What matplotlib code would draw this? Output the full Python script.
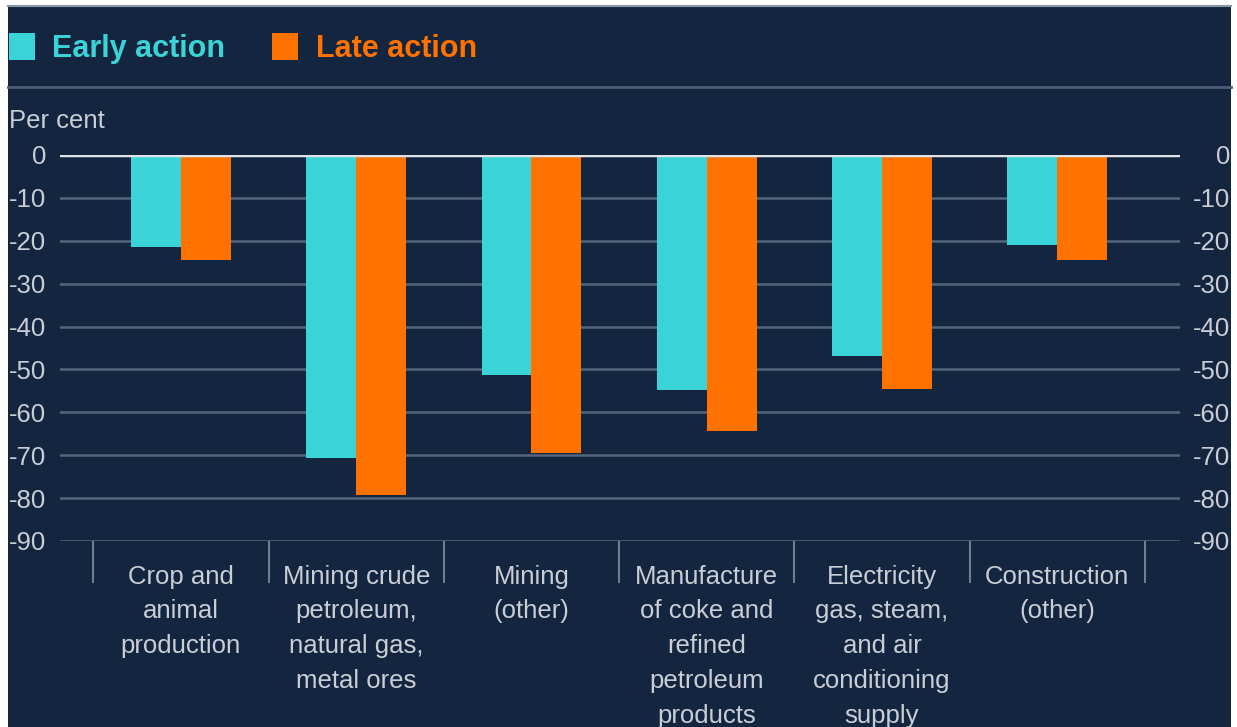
import matplotlib
matplotlib.use("Agg")
import matplotlib.pyplot as plt
from matplotlib.patches import Rectangle
from matplotlib.lines import Line2D
import numpy as np

plt.rcParams['font.family'] = ['Liberation Sans', 'DejaVu Sans']

categories = [
    "Crop and\nanimal\nproduction",
    "Mining crude\npetroleum,\nnatural gas,\nmetal ores",
    "Mining\n(other)",
    "Manufacture\nof coke and\nrefined\npetroleum\nproducts",
    "Electricity\ngas, steam,\nand air\nconditioning\nsupply",
    "Construction\n(other)",
]
early_action = [-21.5, -70.6, -51.3, -54.8, -46.9, -21.0]
late_action = [-24.5, -79.3, -69.5, -64.3, -54.5, -24.5]
yticks = [0, -10, -20, -30, -40, -50, -60, -70, -80, -90]
series_names = ["Early action", "Late action"]

NAVY = "#14263f"
CYAN = "#3ad4d8"
ORANGE = "#ff7200"
TEXT = "#c9ced6"
GRID = "#55657c"

W, H = 1237, 727
fig = plt.figure(figsize=(W / 100, H / 100), dpi=100)
fig.patch.set_facecolor("white")

# navy panel
fig.patches.append(Rectangle((8 / W, 0), (1231 - 8) / W, (H - 7) / H,
                             transform=fig.transFigure, facecolor=NAVY,
                             edgecolor="none", zorder=-10))
fig.lines.append(Line2D([8 / W, 1231 / W], [1 - 6 / H, 1 - 6 / H],
                        transform=fig.transFigure, color="#8a96a6", lw=1.5,
                        zorder=-5))
# separator line under legend
fig.lines.append(Line2D([8 / W, 1231 / W], [1 - 87 / H, 1 - 87 / H],
                        transform=fig.transFigure, color="#4c5d74", lw=2,
                        zorder=-5))

ax = fig.add_axes([60 / W, (H - 541) / H, (1180 - 60) / W, (541 - 155) / H])
ax.set_facecolor("none")

x = np.arange(len(categories))
bw = 0.285
ax.bar(x - bw / 2, early_action, width=bw, color=CYAN, zorder=3)
ax.bar(x + bw / 2, late_action, width=bw, color=ORANGE, zorder=3)

ax.set_xlim(-0.69, 5.70)
ax.set_ylim(-90, 0)

for v in yticks:
    if v == 0:
        ax.axhline(v, color="#dfe3e8", lw=2.5, zorder=4)
    else:
        ax.axhline(v, color=GRID, lw=1.8, zorder=1)

for s in ax.spines.values():
    s.set_visible(False)

ax.set_yticks(yticks)
ax.set_yticklabels([str(v) for v in yticks])
ax.tick_params(axis="y", length=0, pad=10, labelsize=18.5, labelcolor=TEXT)

ax.set_xticks(x)
ax.set_xticklabels(categories, linespacing=1.57)
ax.tick_params(axis="x", which="major", length=0, pad=17, labelsize=18.5,
               labelcolor=TEXT)
ax.set_xticks(np.arange(-0.5, len(categories), 1.0), minor=True)
ax.tick_params(axis="x", which="minor", length=30, width=1.5, color="#6f7d90",
               direction="out")

ax2 = ax.twinx()
ax2.set_ylim(ax.get_ylim())
ax2.set_yticks(yticks)
ax2.set_yticklabels([str(v) for v in yticks])
for s in ax2.spines.values():
    s.set_visible(False)
ax2.tick_params(axis="y", length=0, pad=36, labelsize=18.5, labelcolor=TEXT)
for lab in ax2.get_yticklabels():
    lab.set_horizontalalignment("right")

fig.text(9 / W, 1 - 121 / H, "Per cent", fontsize=18.5, color=TEXT,
         ha="left", va="center")

# legend
fig.patches.append(Rectangle((9 / W, 1 - 60 / H), 26 / W, 27 / H,
                             transform=fig.transFigure, facecolor=CYAN,
                             edgecolor="none"))
fig.text(52 / W, 1 - 49 / H, series_names[0], fontsize=22, fontweight="bold",
         color=CYAN, ha="left", va="center")
fig.patches.append(Rectangle((272 / W, 1 - 60 / H), 26 / W, 27 / H,
                             transform=fig.transFigure, facecolor=ORANGE,
                             edgecolor="none"))
fig.text(316 / W, 1 - 49 / H, series_names[1], fontsize=22, fontweight="bold",
         color=ORANGE, ha="left", va="center")

fig.savefig("out.png", dpi=100, facecolor=fig.get_facecolor())
